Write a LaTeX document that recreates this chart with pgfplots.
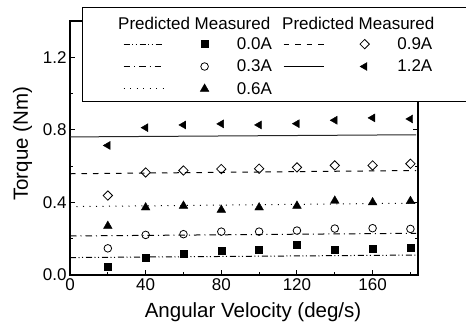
\documentclass[border=0pt]{standalone}
\usepackage{pgfplots}
\pgfplotsset{compat=1.18}
\usepackage{fontspec}
\setmainfont{Liberation Sans}

\pgfplotsset{
 legaxis/.style={
  at={(70pt,52pt)}, anchor=south west,
  scale only axis, width=348pt, height=254pt,
  hide axis, xmin=0, xmax=1, ymin=0, ymax=1,
  legend columns=1,
  legend cell align=left,
  legend style={anchor=north west, draw=none, fill=none,
   font=\fontsize{17}{20}\selectfont, inner sep=0pt, row sep=9pt,
   nodes={inner sep=0pt}},
 }
}

\begin{document}
\begin{tikzpicture}
\begin{axis}[
 at={(70pt,52pt)}, anchor=south west,
 scale only axis, width=348pt, height=254pt,
 xmin=0, xmax=184, ymin=0, ymax=1.4,
 xtick={0,40,80,120,160}, ytick={0,0.4,0.8,1.2},
 minor xtick={20,60,100,140,180}, minor ytick={0.2,0.6,1.0},
 yticklabel style={/pgf/number format/.cd, fixed, fixed zerofill, precision=1},
 /pgf/number format/assume math mode=true,
 tick align=inside,
 major tick length=5pt, minor tick length=3pt,
 every tick/.style={black, line width=1pt},
 axis line style={line width=2pt},
 ticklabel style={font=\fontsize{17}{20}\selectfont},
 xlabel={Angular Velocity (deg/s)}, ylabel={Torque (Nm)},
 label style={font=\fontsize{20.5}{24}\selectfont},
 xlabel style={at={(axis description cs:0.526,-0.169)}, anchor=base},
 ylabel style={at={(axis description cs:-0.121,0.516)}, anchor=base},
 clip=false,
]
% predicted
\addplot[black, line width=1pt, dash pattern=on 6pt off 2.5pt on 1pt off 2.5pt on 1pt off 3pt] coordinates {(0,0.096) (183,0.110)};
\addplot[black, line width=1pt, dash pattern=on 6.5pt off 4pt on 1pt off 4pt] coordinates {(0,0.215) (183,0.230)};
\addplot[black, line width=1pt, dash pattern=on 1pt off 5.5pt] coordinates {(0,0.377) (183,0.396)};
\addplot[black, line width=1pt, dash pattern=on 5.5pt off 6pt] coordinates {(0,0.558) (183,0.576)};
\addplot[black!85, line width=1pt] coordinates {(0,0.761) (183,0.773)};
% measured
\addplot[only marks, mark=square*, mark size=3.5pt, black] coordinates {
(20,0.046) (40,0.096) (60,0.120) (80,0.134) (100,0.142) (120,0.167) (140,0.140) (160,0.145) (180,0.151)};
\addplot[only marks, mark=o, mark size=3.8pt, black, line width=0.8pt] coordinates {
(20,0.147) (40,0.221) (60,0.225) (80,0.239) (100,0.239) (120,0.245) (140,0.256) (160,0.258) (180,0.254)};
\addplot[only marks, mark=triangle*, mark size=5pt, black] coordinates {
(20,0.270) (40,0.372) (60,0.381) (80,0.359) (100,0.372) (120,0.381) (140,0.409) (160,0.400) (180,0.407)};
\addplot[only marks, mark=square, mark options={rotate=45}, mark size=3.3pt, black, line width=0.8pt] coordinates {
(20,0.438) (40,0.565) (60,0.576) (80,0.584) (100,0.586) (120,0.593) (140,0.604) (160,0.604) (180,0.613)};
\addplot[only marks, mark=triangle*, mark options={rotate=90}, mark size=4.6pt, black] coordinates {
(20,0.714) (40,0.812) (60,0.827) (80,0.833) (100,0.827) (120,0.834) (140,0.853) (160,0.866) (180,0.860)};
\end{axis}

\draw[line width=1pt, fill=white] (82pt,225pt) rectangle (480pt,319pt);
\node[anchor=base west, font=\fontsize{17}{20}\selectfont, inner sep=0pt] at (118pt,297.5pt) {Predicted Measured};
\node[anchor=base west, font=\fontsize{17}{20}\selectfont, inner sep=0pt] at (282pt,297.5pt) {Predicted Measured};

\begin{axis}[legaxis, legend style={at={(axis description cs:0.152,0.936)}}]
\addlegendimage{legend image code/.code={
  \draw[black, line width=1pt, dash pattern=on 6pt off 2.5pt on 1pt off 2.5pt on 1pt off 3pt] (0pt,0pt) -- (40pt,0pt);
  \draw[black, mark=square*, mark size=3.5pt] plot coordinates {(81pt,0pt)};}}
\addlegendentry{\hspace*{28pt}0.0A}
\addlegendimage{legend image code/.code={
  \draw[black, line width=1pt, dash pattern=on 6.5pt off 4pt on 1pt off 4pt] (0pt,0pt) -- (40pt,0pt);
  \draw[black, line width=0.8pt, mark=o, mark size=3.8pt] plot coordinates {(81pt,0pt)};}}
\addlegendentry{\hspace*{28pt}0.3A}
\addlegendimage{legend image code/.code={
  \draw[black, line width=1pt, dash pattern=on 1pt off 5.5pt] (0pt,0pt) -- (40pt,0pt);
  \draw[black, mark=triangle*, mark size=5pt] plot coordinates {(81pt,0pt)};}}
\addlegendentry{\hspace*{28pt}0.6A}
\end{axis}

\begin{axis}[legaxis, legend style={at={(axis description cs:0.612,0.936)}}]
\addlegendimage{legend image code/.code={
  \draw[black, line width=1pt, dash pattern=on 5.5pt off 6pt] (0pt,0pt) -- (40pt,0pt);
  \draw[black, line width=0.8pt, mark=square, mark options={rotate=45}, mark size=3.3pt] plot coordinates {(81pt,0pt)};}}
\addlegendentry{\hspace*{28pt}0.9A}
\addlegendimage{legend image code/.code={
  \draw[black, line width=1pt] (0pt,0pt) -- (40pt,0pt);
  \draw[black, mark=triangle*, mark options={rotate=90}, mark size=4.6pt] plot coordinates {(81pt,0pt)};}}
\addlegendentry{\hspace*{28pt}1.2A}
\end{axis}

\pgfresetboundingbox
\useasboundingbox (0pt,0pt) rectangle (466pt,327pt);
\end{tikzpicture}
\end{document}
